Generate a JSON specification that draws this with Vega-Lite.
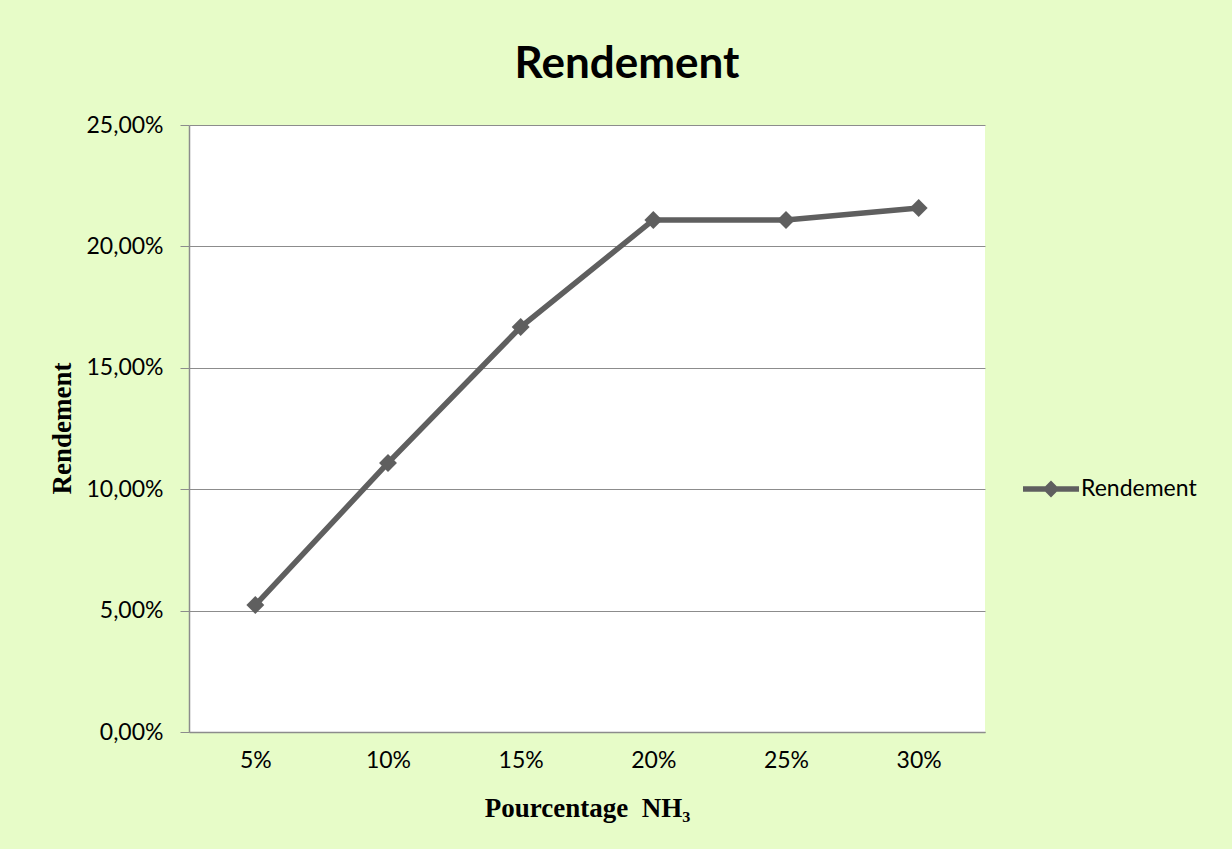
{
  "$schema": "https://vega.github.io/schema/vega-lite/v6.json",
  "autosize": "none",
  "width": 796,
  "height": 607,
  "padding": {"left": 189, "top": 125, "right": 247, "bottom": 117},
  "background": "#e7fcc8",
  "title": {
    "text": "Rendement",
    "font": "Lato",
    "fontSize": 44,
    "fontWeight": "bold",
    "color": "#000000",
    "anchor": "middle",
    "dx": 40,
    "offset": 27
  },
  "data": {
    "values": [
      {"pct": "5%", "rendement": 0.0523, "serie": "Rendement"},
      {"pct": "10%", "rendement": 0.1108, "serie": "Rendement"},
      {"pct": "15%", "rendement": 0.1668, "serie": "Rendement"},
      {"pct": "20%", "rendement": 0.2109, "serie": "Rendement"},
      {"pct": "25%", "rendement": 0.2109, "serie": "Rendement"},
      {"pct": "30%", "rendement": 0.2158, "serie": "Rendement"}
    ]
  },
  "encoding": {
    "x": {
      "field": "pct",
      "type": "ordinal",
      "sort": null,
      "scale": {"padding": 0.5},
      "axis": {
        "title": "Pourcentage\u00a0\u00a0NH₃",
        "titleFont": "Liberation Serif",
        "titleFontSize": 27,
        "titleFontWeight": "bold",
        "titleColor": "#000000",
        "titleY": 76,
        "titleBaseline": "middle",
        "labelFont": "Lato",
        "labelFontSize": 23,
        "labelColor": "#000000",
        "labelAngle": 0,
        "labelPadding": 17,
        "ticks": false,
        "tickSize": 0,
        "grid": false,
        "domainColor": "#8c8c8c",
        "domainWidth": 1.5
      }
    },
    "y": {
      "field": "rendement",
      "type": "quantitative",
      "scale": {"domain": [0, 0.25], "nice": false},
      "axis": {
        "title": "Rendement",
        "titleFont": "Liberation Serif",
        "titleFontSize": 27,
        "titleFontWeight": "bold",
        "titleColor": "#000000",
        "titleX": -127,
        "titleY": 303,
        "titleAngle": -90,
        "titleAlign": "center",
        "titleBaseline": "middle",
        "values": [0, 0.05, 0.1, 0.15, 0.2, 0.25],
        "labelExpr": "replace(format(datum.value, '.2%'), '.', ',')",
        "labelFont": "Lato",
        "labelFontSize": 23,
        "labelColor": "#000000",
        "labelPadding": 17,
        "tickSize": 9,
        "tickColor": "#8c8c8c",
        "domainColor": "#8c8c8c",
        "domainWidth": 1.5,
        "gridColor": "#8c8c8c",
        "gridWidth": 1,
        "gridOpacity": 1
      }
    },
    "color": {
      "field": "serie",
      "type": "nominal",
      "scale": {"range": ["#5f5f5f"]},
      "legend": {
        "title": null,
        "orient": "none",
        "legendX": 834,
        "legendY": 336,
        "symbolType": "M -1 -0.1 H 1 V 0.1 H -1 Z M 0 -0.3 L 0.3 0 L 0 0.3 L -0.3 0 Z",
        "symbolSize": 3136,
        "symbolFillColor": "#5f5f5f",
        "symbolStrokeWidth": 0,
        "symbolOpacity": 1,
        "labelFont": "Lato",
        "labelFontSize": 23,
        "labelColor": "#000000",
        "labelOffset": 2
      }
    }
  },
  "layer": [
    {"mark": {"type": "line", "strokeWidth": 5.5, "strokeJoin": "miter"}},
    {"mark": {"type": "point", "shape": "diamond", "filled": true, "size": 320, "opacity": 1}}
  ],
  "config": {
    "view": {"fill": "#ffffff", "stroke": null}
  }
}
